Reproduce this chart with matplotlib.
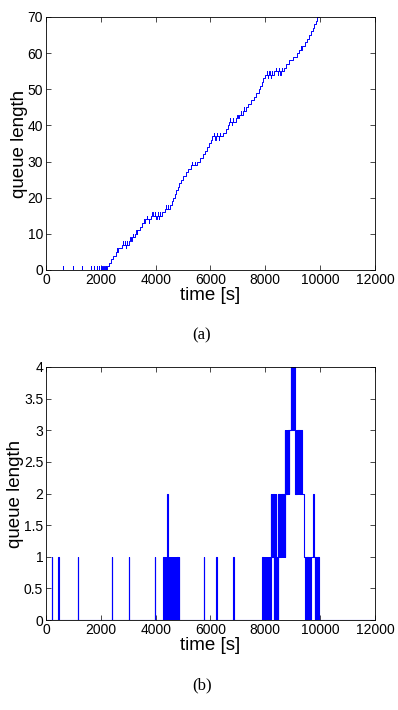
import numpy as np
import matplotlib
matplotlib.use("Agg")
import matplotlib.pyplot as plt
from matplotlib.ticker import FuncFormatter

# ---------------- data ----------------
# (a) staircase: time [s] at which each queue level is reached
top_t = [0, 2240, 2300, 2370, 2450, 2540, 2640, 2760, 3030, 3130, 3240,
         3330, 3420, 3500, 3600, 3840, 4240, 4330, 4510, 4590, 4650,
         4700, 4750, 4800, 4860, 4930, 5000, 5090, 5180, 5280, 5520,
         5620, 5730, 5810, 5890, 5960, 6010, 6070, 6470, 6560, 6630,
         6690, 6920, 7040, 7180, 7290, 7380, 7470, 7570, 7670, 7760,
         7820, 7870, 7930, 8000, 8320, 8680, 8760, 8880, 9020, 9140,
         9230, 9330, 9460, 9530, 9600, 9660, 9730, 9790, 9850, 9900,
         9960, 10020]
top_q = [0, 1, 2, 3, 4, 5, 6, 7, 8, 9, 10,
         11, 12, 13, 14, 15, 16, 17, 18, 19, 20,
         21, 22, 23, 24, 25, 26, 27, 28, 29, 30,
         31, 32, 33, 34, 35, 36, 37, 38, 39, 40,
         41, 42, 43, 44, 45, 46, 47, 48, 49, 50,
         51, 52, 53, 54, 55, 56, 57, 58, 59, 60,
         61, 62, 63, 64, 65, 66, 67, 68, 69, 70,
         71, 72]
# short +1 excursions of the queue in (a)
top_up = [630, 980, 1320, 1650, 1750, 1860, 1920, 1990, 2060, 2130, 2190,
          2600, 2800, 2880, 2960, 3080, 3180, 3300, 3560, 3680, 3880,
          3980, 4080, 4170, 4370, 4460, 5330, 5430, 6120, 6230, 6350,
          6720, 6830, 6980, 7100, 7220, 8050, 8150, 8250, 8380, 8500,
          8600, 9000, 9300]
# short -1 excursions of the queue in (a)
top_down = [2900, 3750, 4030, 4130, 6180, 6300, 6780, 8100, 8200, 8450,
            8550]

# (b) base level of the queue
bot_t = [0, 4420, 4462, 8206, 8475, 8880, 9350, 9420, 9960]
bot_q = [0, 1, 0, 1, 2, 3, 2, 1, 0]
# short +1 excursions in (b)
bot_up = [207, 450, 1160, 2400, 3027, 3975,
          4255, 4280, 4300, 4325, 4350, 4375,
          4426, 4438, 4450,
          4480, 4505, 4530, 4555, 4580,
          4625, 4655, 4710, 4735, 4760, 4790, 4820, 4845,
          5765, 6215, 6832,
          7890, 7940, 7985, 8030, 8060, 8090, 8130, 8160, 8190,
          8215, 8240, 8265, 8290, 8340, 8380,
          8720, 8750, 8780, 8810, 8840, 8870,
          8940, 8965, 8990, 9015, 9040, 9060, 9750]
# short -1 excursions in (b)
bot_down = [8310, 8360, 8400, 8430, 8460,
            8490, 8520, 8550, 8580, 8610, 8640, 8670, 8700,
            9075, 9100, 9130, 9160, 9190, 9220, 9250, 9280, 9310, 9335,
            9430, 9460, 9490, 9520, 9550, 9580, 9610, 9640, 9670,
            9800, 9830, 9860, 9890, 9920, 9950]

x_ticks = [0, 2000, 4000, 6000, 8000, 10000, 12000]
top_yticks = [0, 10, 20, 30, 40, 50, 60, 70]
bot_yticks = [0, 0.5, 1, 1.5, 2, 2.5, 3, 3.5, 4]


def step_series(bt, bq, ups, downs, dur):
    bt = np.asarray(bt, float)
    bq = np.asarray(bq, float)

    def base(t):
        i = np.searchsorted(bt, t, side="right") - 1
        return bq[max(i, 0)]

    pts = list(zip(bt, bq))
    for t in ups:
        b = base(t)
        pts.append((t, b + 1))
        pts.append((t + dur, b))
    for t in downs:
        b = base(t)
        pts.append((t, b - 1))
        pts.append((t + dur, b))
    pts.sort(key=lambda p: p[0])
    pts.append((12500, pts[-1][1]))
    arr = np.array(pts)
    return arr[:, 0], arr[:, 1]


plt.rcParams["font.family"] = ["Liberation Sans", "DejaVu Sans"]

fig = plt.figure(figsize=(3.98, 7.10), dpi=100)

ax1 = fig.add_axes([46 / 398, 1 - 270 / 710, 329 / 398, 253 / 710])
ax2 = fig.add_axes([46 / 398, 1 - 620 / 710, 329 / 398, 253 / 710])

xt, yq = step_series(top_t, top_q, top_up, top_down, 6)
ax1.plot(xt, yq, drawstyle="steps-post", color="#0000ff", lw=0.7)
xb, yb = step_series(bot_t, bot_q, bot_up, bot_down, 8)
ax2.plot(xb, yb, drawstyle="steps-post", color="#0000ff", lw=0.8)

fmt = FuncFormatter(lambda v, p: ("%g" % v))
for ax, yt in ((ax1, top_yticks), (ax2, bot_yticks)):
    ax.set_xlim(0, 12000)
    ax.set_ylim(yt[0], yt[-1])
    ax.set_xticks(x_ticks)
    ax.set_yticks(yt)
    ax.yaxis.set_major_formatter(fmt)
    ax.xaxis.set_major_formatter(fmt)
    ax.tick_params(direction="in", top=True, right=True, length=3.5,
                   width=0.5, labelsize=10, pad=2)
    for s in ax.spines.values():
        s.set_linewidth(0.6)
    ax.set_xlabel("time [s]", fontsize=13.5, labelpad=0)
    ax.set_ylabel("queue length", fontsize=13.5, labelpad=0)

fig.text(202 / 398, 1 - 335 / 710, "(a)", ha="center", va="center",
         fontsize=12, family=["Liberation Serif", "DejaVu Serif"])
fig.text(202 / 398, 1 - 685 / 710, "(b)", ha="center", va="center",
         fontsize=12, family=["Liberation Serif", "DejaVu Serif"])

fig.savefig("out.png", dpi=100)
